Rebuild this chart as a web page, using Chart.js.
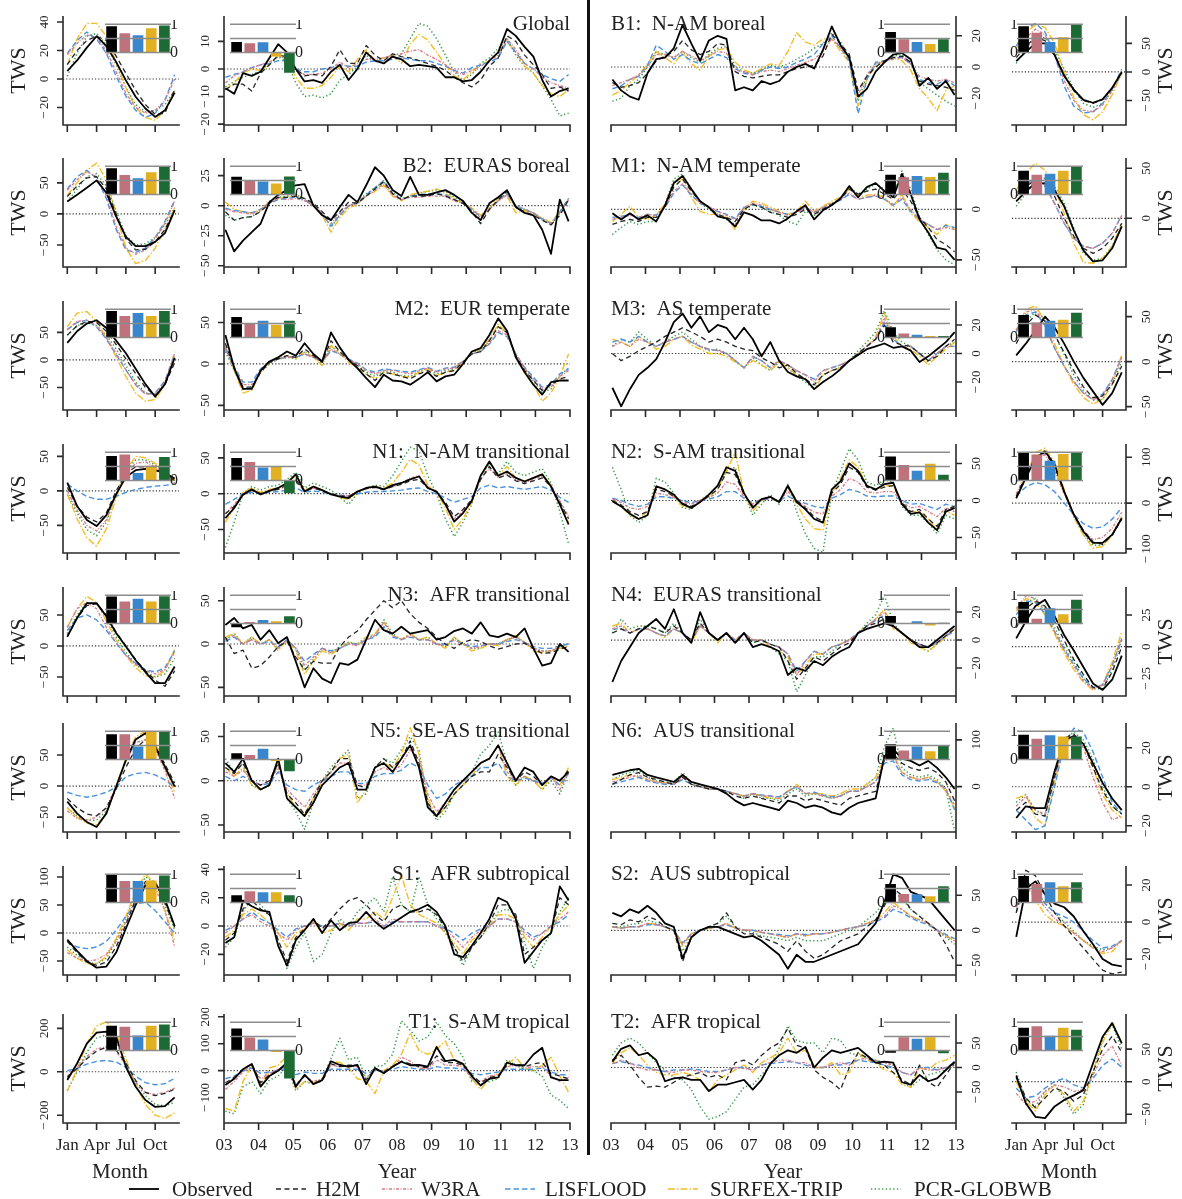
<!DOCTYPE html>
<html>
<head>
<meta charset="utf-8">
<title>Terrestrial water storage: observed and modelled</title>
<script src="https://cdn.jsdelivr.net/npm/chart.js@4.4.1/dist/chart.umd.min.js"></script>
<style>
  html, body { margin:0; padding:0; background:#fff; }
  body { position:relative; width:1182px; height:1199px; overflow:hidden;
         font-family:"Liberation Serif","DejaVu Serif",serif; color:#222; }
  canvas { position:absolute; }
  .divider { position:absolute; left:587px; top:0; width:3px; height:1155px; background:#111; }
  .axt { position:absolute; font-size:21px; line-height:1; white-space:nowrap; transform:translate(-50%,-50%); }
  .key { position:absolute; top:1178px; height:22px; display:flex; align-items:center; font-size:21px; white-space:nowrap; }
</style>
</head>
<body>
<div class="divider"></div>
<script>
// ---- axes / categories -------------------------------------------------
const MONTHS = [1,2,3,4,5,6,7,8,9,10,11,12];
const YEARS = Array.from({length: 40}, (_, i) => 2003.04 + i * 9.92 / 39);   // quarterly time stamps
const SERIES = ['Observed','H2M','W3RA','LISFLOOD','SURFEX-TRIP','PCR-GLOBWB'];
const MODELS = SERIES.slice(1);
const YEAR_TICKS = [2003,2004,2005,2006,2007,2008,2009,2010,2011,2012,2013];
const YEAR_LABELS = ['03','04','05','06','07','08','09','10','11','12','13'];
const MONTH_TICKS = [1,4,7,10];
const MONTH_LABELS = ['Jan','Apr','Jul','Oct'];

// ---- mean seasonal cycles (rows: Observed, H2M, W3RA, LISFLOOD, SURFEX-TRIP, PCR-GLOBWB)
const seasGlobal = [
  [5.6,13,22,30,23,12,-1,-12.5,-20.7,-26.6,-22,-9.6],
  [10,20,27,30,27,16,4,-8,-18,-25,-24,-7],
  [17,25,31,29,20,5,-10,-20,-24,-22,-15,0],
  [18,27,33,28,18,2,-12,-22,-27,-24,-15,3],
  [10,28,39,39,30,12,-6,-20,-27,-29,-22,-8],
  [2,18,30,32,24,10,-6,-18,-23,-22,-18,-8]];
const seasB1 = [
  [19,35,50,50,30,-7,-31,-49,-54,-48,-28,0],
  [25,45,60,55,30,-5,-33,-50,-55,-48,-28,-2],
  [35,60,75,65,30,-15,-50,-67,-70,-58,-33,0],
  [45,75,85,70,30,-25,-60,-72,-70,-55,-30,5],
  [40,70,82,78,50,0,-45,-75,-84,-70,-40,-2],
  [15,40,62,60,38,5,-30,-55,-62,-55,-33,-3]];
const seasB2 = [
  [20,31,42,54,34,-4,-37,-52,-52,-45,-31,6],
  [28,45,58,60,40,0,-40,-58,-57,-45,-25,5],
  [38,55,68,60,30,-20,-55,-65,-58,-40,-15,20],
  [40,60,70,58,25,-25,-58,-62,-55,-38,-12,22],
  [30,50,70,82,55,0,-55,-80,-75,-55,-25,10],
  [20,40,60,65,45,5,-35,-50,-48,-38,-18,10]];
const seasM1 = [
  [17,27,35,35,28,12,-12,-32,-43,-42,-30,-8],
  [22,32,38,35,22,0,-18,-30,-35,-30,-20,-5],
  [25,36,40,33,15,-5,-20,-28,-30,-25,-15,3],
  [25,35,38,32,15,-5,-20,-28,-30,-25,-15,3],
  [28,45,55,48,30,5,-25,-44,-45,-40,-28,-5],
  [12,25,38,40,32,15,-10,-35,-42,-40,-28,-8]];
const seasM2 = [
  [31,52,66,72,58,35,12,-16,-44,-67,-44,4],
  [45,62,70,68,52,28,2,-25,-50,-65,-45,-5],
  [55,70,72,62,40,12,-18,-45,-62,-62,-40,10],
  [55,68,72,60,38,10,-18,-45,-62,-60,-38,10],
  [60,85,88,70,40,5,-30,-60,-75,-72,-45,15],
  [45,62,68,62,45,20,-10,-40,-60,-62,-42,5]];
const seasM3 = [
  [7,20,35,50,38,20,0,-18,-33,-48,-35,-12],
  [20,40,52,45,30,10,-10,-28,-40,-38,-25,-5],
  [35,55,58,40,15,-5,-22,-35,-42,-38,-20,5],
  [33,52,55,40,15,-5,-22,-35,-42,-36,-20,5],
  [35,58,62,45,20,-5,-25,-40,-47,-42,-25,8],
  [25,45,55,48,30,8,-15,-32,-43,-42,-25,0]];
const seasN1 = [
  [12,-22,-42,-51,-35,-5,20,30,32,30,26,18],
  [5,-22,-38,-45,-32,0,25,35,35,30,25,15],
  [0,-28,-50,-58,-42,-5,25,40,42,35,25,10],
  [10,0,-8,-12,-12,-8,-2,2,5,7,8,10],
  [-5,-40,-68,-80,-55,-10,30,50,48,40,30,15],
  [-5,-32,-56,-65,-45,-5,28,45,45,38,28,12]];
const seasN2 = [
  [11,55,98,113,84,25,-25,-62,-87,-87,-69,-33],
  [15,60,100,110,80,25,-25,-60,-85,-90,-70,-35],
  [20,65,100,105,70,20,-25,-60,-80,-75,-55,-20],
  [15,35,45,40,25,0,-25,-45,-55,-52,-35,-10],
  [10,60,110,120,90,30,-30,-70,-98,-95,-70,-30],
  [10,55,100,115,85,25,-30,-68,-92,-92,-68,-30]];
const seasN3 = [
  [15,45,69,69,48,21,-1,-23,-42,-60,-60,-33],
  [15,45,65,68,50,22,0,-22,-40,-55,-65,-40],
  [30,60,70,60,30,5,-15,-30,-40,-45,-38,-10],
  [25,45,50,42,25,5,-15,-28,-38,-42,-35,-8],
  [30,60,80,70,40,10,-15,-35,-48,-50,-40,-5],
  [20,50,70,68,45,15,-10,-30,-42,-50,-45,-20]];
const seasN4 = [
  [6.6,20,32,37,24,9,-3,-16,-29,-34,-26,-7],
  [15,30,36,32,20,5,-10,-22,-32,-33,-20,0],
  [30,40,38,28,12,-3,-15,-27,-33,-30,-15,8],
  [25,36,35,26,12,-2,-14,-25,-32,-30,-15,6],
  [28,38,35,25,10,-5,-18,-28,-34,-30,-12,12],
  [20,35,38,30,15,0,-12,-25,-33,-33,-18,5]];
const seasN5 = [
  [-25,-44,-58,-66,-44,-1,42,75,85,64,31,-1],
  [-20,-35,-45,-48,-35,-5,30,60,75,65,35,5],
  [-40,-52,-55,-50,-35,0,40,70,75,60,25,-20],
  [-10,-15,-18,-15,-10,-2,15,20,22,18,10,-2],
  [-35,-50,-60,-62,-45,0,45,80,88,70,30,-10],
  [-35,-48,-55,-55,-40,0,40,75,85,70,35,0]];
const seasN6 = [
  [-16,-10,-11,-11,8,24,26,22,12,2,-6,-12],
  [-12,-8,-14,-15,5,25,27,22,10,-2,-10,-14],
  [-10,-5,-12,-14,5,24,26,20,5,-8,-17,-15],
  [-12,-17,-22,-20,0,22,30,28,18,5,-8,-14],
  [-6,-4,-16,-20,2,22,26,22,10,-4,-12,-16],
  [-8,-4,-12,-15,4,24,28,24,14,0,-10,-14]];
const seasS1 = [
  [-12,-32,-50,-62,-60,-35,8,50,85,90,60,12],
  [-15,-35,-52,-58,-52,-25,15,60,92,90,55,10],
  [-35,-45,-50,-48,-38,-15,20,60,88,80,40,-25],
  [-15,-25,-28,-25,-15,5,30,52,55,40,20,0],
  [-30,-45,-55,-55,-42,-10,30,75,105,88,40,-15],
  [-25,-40,-52,-55,-45,-15,25,70,100,90,50,5]];
const seasS2 = [
  [-8,18,22,15,10,8,3,-5,-12,-20,-23,-24],
  [5,28,25,15,5,-2,-8,-14,-20,-26,-28,-27],
  [8,20,14,8,2,-2,-6,-10,-14,-16,-14,-10],
  [5,22,18,10,5,3,0,-5,-10,-14,-13,-10],
  [8,20,12,4,0,-2,-6,-10,-14,-17,-16,-10],
  [10,22,18,10,5,0,-5,-10,-13,-15,-14,-10]];
const seasT1 = [
  [-38,38,130,180,185,162,23,-69,-130,-162,-158,-118],
  [-25,15,60,95,112,100,40,-40,-95,-110,-100,-80],
  [-20,20,70,105,115,95,30,-50,-95,-105,-95,-75],
  [5,15,35,48,52,45,20,-20,-50,-60,-55,-30],
  [-90,10,130,210,230,180,60,-60,-150,-200,-215,-190],
  [-85,0,90,155,170,140,40,-50,-110,-150,-158,-140]];
const seasT2 = [
  [8,-33,-54,-56,-38,-28,-21,-13,28,69,90,59],
  [10,-25,-40,-25,-10,-15,-30,-20,15,50,70,45],
  [-18,-35,-30,-15,-5,-8,-15,-12,10,40,55,25],
  [-10,-25,-22,-10,0,5,-5,-10,5,25,35,22],
  [0,-30,-45,-20,-5,-20,-45,-30,15,60,92,60],
  [15,-28,-38,-15,-5,-25,-50,-35,15,65,88,50]];

// ---- anomaly time series, 2003-2012 (quarterly, same series order) -----
const tsGlobal = [
  [-7,-9,-1.5,-2.5,-1,4,9,6,0,-4.5,-4,-5,-1,1.5,-4,0,6,3,2,4.5,3.5,1,1.5,1,0.5,-3,-3,-4.5,-4,-1,3,6,14.5,12,8,4.5,-4,-10,-8,-7],
  [-7.5,-5.5,-5.5,-8,-1.5,1.5,5,4.5,0,-2.5,-2,-2.5,1,7,2,2,8.5,5,3,5.5,4.5,4,3,2,1,-0.5,-3,-5,-6.5,-4,1,4,12,10,5,1.5,-2,-7,-6.5,-8],
  [-5,-2.5,-1,0.5,1.5,2.5,4.5,4,-0.5,-2,-2,-1.5,0,2.5,0.5,2,3.5,3.5,4,5,5.5,6.5,7,5,3.5,1.5,-1,-2,-0.5,1,3,5,11,7,2,0,-3,-5,-6,-7],
  [-3,-2,-1,0.5,1.5,2,3,3,0,-1,-1,0,0.5,1.5,1,1,2.5,3,3,3.5,4,3.5,3,3,2,1,-0.5,-1.5,0.5,1.5,2.5,4,10,6,2,0,-2,-3.5,-4.5,-2],
  [-7.6,-5,-1.5,0,-0.5,1.5,5,3.5,-3,-7,-7,-6,-3,1,-1,3.5,7,3,4,5,2,9,12.5,10.5,6,1.5,-2.5,-4,-1,1.5,3,6,10,6,1,-1.5,-6,-9,-10,-7.5],
  [-6.5,-4.5,-3,-2,-0.5,2,4.5,2.5,-5,-10,-9.5,-10.5,-9,-4,-2,1,5,2.5,4,5,5.5,11,16.5,15.5,11,5,-1,-4,-2,2,4,7.5,11,5,1,-1.5,-6,-11,-17,-16]];
const tsB1 = [
  [-8,-15,-19,-21,-4,5,6,12,27,15,4,17,20,18,-15,-13,-15,-9,-11,-9,-3,0,2,-1,11,26,14,6,-19,-14,-3,3,8,9,5,-12,-7,-14,-9,-18],
  [-10,-13,-12,-10,-4,4,7,10,17,11,8,10,15,14,-3,-6,-7,-6,-5,-5,-3,-1,0,1,7,21,15,8,-15,-6,0,4,6,7,3,-9,-11,-12,-13,-15],
  [-12,-10,-8,-5,0,8,8,6,10,7,4,7,10,9,-2,-3,-5,-3,-2,-3,-1,1,3,5,10,18,12,6,-18,-5,2,3,5,6,2,-6,-8,-9,-8,-10],
  [-14,-12,-8,-6,1,14,10,5,8,4,2,5,8,6,-1,-4,-5,-2,0,-1,0,3,5,8,15,20,12,4,-30,-8,3,4,6,6,2,-8,-10,-11,-8,-12],
  [-18,-15,-10,-5,2,10,6,2,9,2,-2,7,11,12,3,-2,-4,-1,2,1,10,22,16,14,18,18,10,3,-25,-8,1,4,6,4,-2,-14,-20,-28,-15,-12],
  [-22,-20,-12,-8,0,10,8,6,10,6,3,8,12,13,0,-3,-4,-2,1,0,2,5,8,12,15,22,16,6,-22,-6,2,4,7,8,2,-10,-14,-18,-22,-25]];
const tsB2 = [
  [-20,-38,-29,-22,-15,3,9,13,17,18,0,-8,-12,-1,9,3,17,32,25,13,8,24,9,9,11,13,9,4,-6,-12,2,7,13,-1,-6,-8,-20,-40,5,-13],
  [-5,-12,-10,-9,-5,2,7,7,8,6,2,-5,-12,-5,3,2,8,14,20,10,5,8,8,8,10,8,5,2,-5,-15,-3,5,12,-1,-5,-8,-12,-16,-8,5],
  [-3,-5,-6,-7,-3,3,6,5,6,4,0,-6,-15,-6,0,2,8,13,18,9,5,7,7,8,8,8,4,2,-3,-10,-3,4,9,0,-3,-6,-12,-15,-6,5],
  [-2,-4,-5,-6,-3,2,5,6,7,5,0,-7,-17,-8,0,2,9,15,21,10,5,8,9,10,10,9,5,2,-3,-9,-3,4,10,0,-3,-6,-11,-15,-5,6],
  [3,-3,-5,-6,-4,3,6,7,8,5,0,-8,-22,-10,-2,1,8,12,17,8,4,9,11,12,14,10,6,2,-2,-8,-2,6,8,-6,-4,-7,-10,-14,-5,6],
  [-8,-12,-10,-9,-4,4,7,8,9,6,1,-6,-18,-8,0,3,10,15,20,11,6,8,10,12,13,12,7,3,-4,-12,-2,6,10,-2,-3,-6,-11,-16,-6,6]];
const tsM1 = [
  [-4,-10,-4,-10,-6,-12,4,26,33,20,8,2,-7,-9,-17,-3,-6,-11,-11,-14,-9,-2,4,-10,-1,4,11,23,12,22,26,18,12,35,15,-10,-23,-38,-40,-50],
  [-15,-12,-10,-12,-8,-8,2,22,30,18,8,2,-5,-8,-12,0,5,2,-3,-5,-8,-5,0,-5,0,5,10,20,15,18,20,15,10,20,8,-8,-18,-30,-35,-42],
  [-10,-8,-6,-8,-5,-6,3,18,25,15,6,3,-2,-6,-10,2,6,4,0,-3,-6,-3,2,-3,2,6,10,16,10,12,14,10,5,12,0,-10,-15,-20,-18,-20],
  [-8,-7,-5,-8,-5,-6,2,16,24,14,6,2,-2,-5,-9,2,5,3,0,-3,-5,-3,2,-3,1,5,9,15,10,12,13,10,4,10,-2,-10,-15,-20,-16,-18],
  [-12,-5,3,-8,-10,-5,5,26,30,12,-2,-5,-5,-8,-20,0,8,6,2,-2,-5,-2,8,-2,3,8,12,20,12,14,15,12,2,15,-4,-12,-18,-25,-15,-20],
  [-25,-18,-12,-15,-12,-12,5,30,35,20,6,0,-5,-10,-15,0,4,2,-2,-6,-12,-15,-2,-6,2,6,10,22,15,20,25,20,15,38,20,-8,-25,-40,-50,-55]];
const tsM2 = [
  [35,-5,-30,-30,-8,3,8,15,10,25,12,3,38,20,5,-5,-17,-28,-13,-20,-21,-25,-18,-10,-21,-15,-13,0,15,19,35,55,40,8,-10,-25,-37,-22,-20,-20],
  [25,-5,-28,-28,-10,2,6,10,8,18,10,2,28,15,5,-2,-12,-20,-10,-12,-15,-18,-12,-8,-15,-10,-8,2,12,15,28,45,38,10,-8,-20,-32,-25,-18,-15],
  [20,-5,-25,-25,-8,2,6,8,8,12,8,2,18,12,5,0,-8,-12,-8,-8,-10,-12,-8,-5,-10,-6,-5,3,12,15,25,40,35,12,-5,-18,-30,-28,-15,-8],
  [18,-3,-22,-22,-6,3,6,8,8,12,8,3,16,12,6,1,-7,-10,-6,-7,-9,-10,-7,-4,-9,-5,-4,3,12,15,24,38,33,12,-4,-16,-28,-25,-12,-6],
  [22,-8,-35,-32,-10,2,8,10,6,15,8,-2,22,12,2,-5,-12,-18,-10,-12,-15,-16,-10,-6,-14,-10,-8,2,14,18,30,48,38,8,-8,-25,-45,-35,-15,12],
  [15,-8,-30,-28,-10,0,6,8,6,14,9,1,22,14,6,-2,-10,-15,-8,-10,-14,-15,-10,-5,-12,-8,-6,3,13,17,28,45,38,10,-6,-20,-35,-30,-14,-5]];
const tsM3 = [
  [-24,-37,-25,-15,-10,-4,8,22,28,18,26,15,20,18,10,18,10,-2,8,-5,-13,-16,-18,-25,-20,-16,-11,-5,-1,3,5,7,4,5,2,-6,-2,3,8,15],
  [0,-5,-2,2,5,8,12,15,18,15,12,8,10,8,5,3,2,-3,-6,-10,-8,-14,-18,-22,-15,-12,-10,-5,0,5,10,20,8,6,5,0,-5,-2,5,10],
  [5,8,5,10,8,5,8,10,12,8,5,3,2,0,-5,-10,-2,-5,-10,-5,-8,-12,-15,-20,-12,-10,-8,-5,0,5,10,25,10,5,5,0,-5,0,5,5],
  [8,10,8,12,8,5,8,10,12,8,5,3,2,0,-5,-10,-2,-5,-10,-5,-8,-12,-15,-18,-12,-10,-8,-5,0,5,10,22,10,5,5,0,-5,0,5,5],
  [10,8,5,12,8,3,5,10,12,6,3,0,0,-2,-6,-10,-5,-8,-12,-6,-10,-15,-18,-25,-15,-12,-10,-5,0,5,12,28,12,5,3,-2,-8,-2,3,8],
  [5,10,8,15,10,5,8,12,15,10,5,2,3,0,-5,-10,-3,-8,-12,-6,-10,-16,-20,-25,-15,-12,-10,-5,2,8,15,30,15,8,5,0,-6,0,5,8]];
const tsN1 = [
  [-34,-20,-1,6,-1,4,8,15,27,3,10,5,-1,-4,-6,3,8,10,6,12,15,20,24,8,3,-15,-39,-27,-10,25,45,25,31,22,17,22,27,10,-15,-43],
  [-28,-18,-2,5,0,4,6,12,20,3,8,4,0,-3,-4,3,7,9,6,10,13,18,20,8,2,-12,-32,-22,-8,20,38,22,26,18,14,18,22,10,-12,-35],
  [-28,-15,0,5,0,4,6,10,18,4,8,4,0,-2,-3,3,7,9,6,10,14,22,25,10,2,-15,-35,-25,-10,20,35,22,28,20,15,20,25,12,-10,-32],
  [-15,-8,0,2,0,2,3,5,8,2,4,2,0,-2,-3,0,2,3,3,4,5,7,8,3,0,-6,-12,-8,-4,8,12,8,10,8,6,8,10,5,-5,-12],
  [-40,-20,2,8,2,6,8,15,25,5,10,5,0,-5,-8,2,8,10,8,15,30,48,40,12,2,-20,-50,-35,-12,25,45,25,38,22,18,22,28,12,-15,-40],
  [-75,-40,0,10,5,10,12,20,30,8,15,10,5,-5,-15,0,8,12,10,25,45,65,60,25,0,-35,-60,-40,-15,25,42,28,45,30,25,30,35,15,-25,-70]];
const tsN2 = [
  [-1,-8,-18,-25,-20,19,15,8,-5,-10,-2,8,20,45,40,10,-10,2,5,-2,20,-2,-12,-25,-30,15,26,50,40,20,15,22,24,-5,-18,-16,-30,-40,-15,-10],
  [0,-6,-15,-20,-15,15,12,6,-4,-8,-2,6,15,38,35,8,-8,2,4,-2,18,0,-10,-22,-28,10,22,45,38,18,14,18,20,-3,-15,-12,-25,-35,-12,-8],
  [2,-3,-10,-12,-8,10,8,4,-2,-5,0,4,10,25,22,5,-5,2,3,0,12,0,-8,-16,-18,6,15,30,25,12,10,12,12,-2,-10,-8,-15,-22,-10,-15],
  [3,0,-5,-8,-5,5,5,3,0,-3,0,2,5,12,12,3,-3,1,2,0,6,0,-4,-8,-10,3,8,15,12,6,5,6,6,0,-5,-4,-8,-12,-5,-8],
  [0,-8,-20,-25,-15,20,15,5,-8,-10,0,5,15,40,65,10,-15,0,5,-2,18,-5,-25,-38,-40,10,30,55,45,20,15,20,20,-5,-15,-15,-25,-40,-15,-20],
  [45,15,-20,-30,-20,30,25,10,-10,-12,0,8,20,40,45,10,-20,-5,8,-5,22,-15,-45,-65,-70,10,40,70,55,25,20,28,25,-8,-20,-20,-30,-45,-20,-25]];
const tsN3 = [
  [22,30,18,22,5,16,1,8,-20,-50,-28,-40,-45,-22,-24,-18,5,28,16,12,20,12,14,16,5,8,15,18,12,25,10,8,12,8,18,-5,-25,-22,0,-9],
  [8,-11,-7,-28,-25,-15,-3,3,-15,-30,-20,-22,-22,-3,8,15,28,39,50,42,50,35,25,18,8,0,-5,2,5,3,-2,-6,-3,0,1,-5,-11,-10,-6,-3],
  [5,10,0,5,0,5,-5,5,-5,-25,-15,-5,-10,-5,0,-2,5,10,25,10,5,10,5,5,0,-2,5,0,-5,-3,0,0,5,8,2,-5,-8,-8,-3,0],
  [3,8,0,5,0,3,-3,5,-5,-20,-12,-5,-8,-5,0,0,5,8,20,8,5,8,5,5,0,0,5,0,-3,-2,0,0,3,5,2,-3,-5,-5,-2,0],
  [8,12,0,8,0,5,-8,5,-8,-35,-20,-8,-12,-5,2,0,8,12,25,10,5,12,5,8,0,-5,8,0,-8,-5,0,-2,5,10,2,-8,-10,-8,-5,-2],
  [5,12,0,8,0,5,-5,5,-5,-30,-18,-5,-10,-3,2,0,8,10,28,12,5,12,5,8,0,-3,8,0,-5,-5,0,0,5,8,2,-5,-8,-8,-3,0]];
const tsN4 = [
  [-30,-15,-5,5,10,15,8,22,5,-2,20,5,0,5,-2,5,-5,-3,-5,-8,-25,-20,-22,-15,-18,-12,-8,-5,5,8,10,12,10,5,0,-5,-5,0,5,10],
  [5,8,5,8,10,8,5,10,5,0,12,5,0,5,-2,5,-2,0,-3,-5,-15,-28,-20,-12,-15,-10,-5,-2,5,10,12,15,10,5,0,-3,-5,-2,3,8],
  [8,10,5,8,8,5,3,8,5,0,10,5,0,5,0,5,0,0,-3,-5,-10,-25,-15,-8,-10,-5,-3,0,5,10,15,20,10,5,0,-3,-5,-2,3,8],
  [8,8,5,8,8,5,3,8,5,0,10,5,0,5,0,5,0,0,-3,-5,-10,-22,-15,-8,-10,-5,-3,0,5,10,14,18,10,5,0,-3,-5,-2,3,6],
  [10,12,5,8,8,5,2,8,5,-2,10,5,-2,5,0,5,0,0,-5,-8,-12,-25,-18,-10,-10,-5,-3,0,5,10,15,22,8,5,-2,-5,-8,-3,2,8],
  [5,15,8,10,10,8,5,12,5,-2,15,5,0,5,-2,5,-2,0,-5,-10,-15,-37,-25,-12,-12,-8,-3,0,5,12,18,32,12,5,0,-5,-8,-3,3,8]];
const tsN5 = [
  [20,10,25,0,-10,-5,25,-20,-30,-40,-25,-5,5,15,20,-10,-10,15,20,10,25,40,15,-30,-40,-25,-10,0,10,20,25,40,20,0,15,10,-5,5,0,10],
  [15,8,20,0,-5,0,20,-15,-25,-38,-20,0,10,25,25,-5,-8,15,25,15,25,45,20,-25,-40,-30,-15,-5,5,10,10,30,15,0,10,5,-5,5,0,12],
  [10,5,12,0,-5,0,15,-10,-20,-30,-15,0,10,20,20,-5,-5,10,15,10,18,35,25,-15,-35,-25,-10,0,10,20,25,40,10,0,5,0,-5,5,-10,10],
  [5,0,5,0,-5,-3,10,-5,-10,-12,-5,0,5,10,10,-3,-3,5,8,8,12,20,15,-5,-20,-15,-5,0,5,15,15,20,5,0,3,0,-3,3,-5,8],
  [15,5,15,-5,-10,-5,20,-15,-30,-38,-20,0,10,25,30,-25,-10,15,20,15,30,60,30,-20,-42,-30,-15,-5,5,20,25,40,5,-5,5,0,-10,5,-5,15],
  [25,10,20,-5,-10,-5,20,-20,-35,-55,-25,0,15,25,35,-20,-15,15,25,20,35,50,35,-25,-45,-35,-15,-5,10,30,40,55,20,-5,5,0,-10,0,-15,10]];
const tsN6 = [
  [25,30,35,38,25,20,15,10,25,10,5,0,-5,-15,-30,-40,-35,-40,-45,-50,-30,-35,-45,-40,-45,-55,-60,-45,-35,-30,-25,65,80,60,55,45,55,40,20,-5],
  [5,15,25,30,20,15,10,5,20,5,0,-5,-5,-10,-20,-25,-20,-25,-30,-35,-20,-20,-30,-25,-30,-35,-40,-25,-20,-15,-10,60,70,50,40,35,40,30,10,-30],
  [10,15,20,25,15,10,8,5,20,5,0,-5,-5,-10,-15,-20,-15,-20,-20,-25,-10,0,-15,-15,-20,-25,-20,-10,-10,0,10,55,65,30,20,15,20,10,-5,-40],
  [5,10,15,20,12,8,5,5,15,5,0,-5,-5,-10,-15,-20,-15,-18,-20,-22,-10,0,-15,-12,-18,-22,-20,-10,-10,0,10,50,55,25,15,12,15,8,-5,-50],
  [15,20,25,20,15,10,8,5,25,5,0,-5,-5,-10,-15,-20,-15,-20,-25,-25,-10,5,-15,-15,-15,-20,-15,-5,-5,5,20,60,70,30,20,15,20,10,-10,-45],
  [15,25,30,35,20,12,10,8,30,8,2,-5,-5,-12,-15,-25,-15,-25,-25,-30,-15,-5,-20,-15,-20,-25,-20,-10,-10,5,20,85,125,40,25,20,25,15,-5,-95]];
const tsS1 = [
  [-12,-8,18,14,11,10,-14,-28,-10,-3,5,-5,4,-3,2,3,10,3,-2,2,6,10,12,15,10,0,-20,-22,-14,-5,5,20,17,5,-26,-18,-10,-5,28,18],
  [-10,-5,12,18,12,8,-10,-25,-8,-2,5,-2,5,12,18,20,15,8,3,12,15,10,10,12,8,-2,-15,-25,-15,-8,2,15,15,8,-20,-15,-10,-5,20,15],
  [-5,0,5,8,3,0,-5,-10,-3,0,2,0,0,2,0,2,2,5,0,5,3,3,3,3,0,-3,-8,-15,-8,-3,0,5,5,3,-5,-10,-5,0,5,10],
  [-3,0,5,10,5,2,-3,-8,-2,0,2,0,0,2,0,2,2,3,0,3,3,3,3,3,0,-2,-5,-10,-5,-2,0,5,5,3,-3,-8,-5,0,3,8],
  [-8,-3,8,12,8,2,-5,-15,-5,-2,3,-5,-3,2,-3,5,5,10,5,20,36,15,8,5,2,-5,-12,-20,-10,-5,0,8,8,5,-8,-15,-8,0,8,15],
  [-15,-8,10,20,15,8,-10,-30,-15,-5,-25,-20,-5,5,0,10,15,20,10,35,15,10,35,15,5,-5,-15,-28,-15,-8,0,10,12,8,-12,-30,-15,-5,10,20]];
const tsS2 = [
  [25,20,30,25,35,25,10,5,-40,-10,0,5,5,0,-5,-10,-8,-15,-25,-35,-55,-35,-45,-45,-40,-35,-30,-25,-20,-5,10,40,80,75,55,50,45,30,15,0],
  [10,8,15,12,20,15,5,0,-45,-10,0,5,10,25,5,-5,-5,-10,-15,-20,-30,-15,-30,-40,-35,-25,-15,-10,-5,5,15,35,60,50,30,20,10,0,-20,-45],
  [5,3,5,5,10,8,5,0,-20,-5,0,3,5,10,3,0,0,-3,-5,-8,-10,-5,-8,-5,-5,-3,0,3,5,10,15,20,35,30,20,15,10,0,-8,-15],
  [5,3,5,5,8,8,5,0,-18,-5,0,3,5,8,3,0,0,-3,-5,-6,-8,-5,-6,-5,-5,-3,0,3,5,8,12,18,30,25,18,12,8,0,-6,-12],
  [5,3,5,5,10,8,5,0,-22,-5,0,3,5,10,3,0,0,-3,-5,-8,-10,-5,-8,-5,-5,-3,0,3,5,10,15,25,40,30,20,15,10,0,-8,-15],
  [5,5,8,10,15,10,5,0,-30,-8,0,5,10,20,5,0,-3,-8,-10,-12,-15,-10,-15,-15,-15,-10,-5,0,5,15,25,40,55,45,30,20,10,0,-10,-20]];
const tsT1 = [
  [-53,-30,5,25,-59,-20,0,30,-60,-15,-50,-35,35,21,15,21,-50,10,-10,15,33,20,21,15,88,35,40,25,-20,-55,-30,-25,30,20,20,60,85,-25,-35,-35],
  [-45,-25,5,25,-45,-15,0,25,-55,-20,-45,-40,25,15,20,20,-35,5,-5,15,35,25,15,10,55,30,30,20,-15,-45,-25,-20,20,25,15,25,30,-10,-20,-30],
  [-70,-40,-5,20,-30,-10,5,20,-50,-20,-40,-30,20,15,15,15,-30,5,-5,10,50,35,10,5,40,20,20,15,-30,-40,-20,-15,15,20,10,15,15,-20,-40,-25],
  [-30,-20,0,10,-10,-5,0,10,-15,-5,-10,-10,5,5,5,5,-10,0,0,5,15,10,5,5,15,10,10,5,-10,-15,-10,-5,5,5,5,5,10,-5,-15,-15],
  [-140,-150,-40,20,-55,10,20,55,-70,-40,-45,-30,35,30,10,-30,-40,-85,0,20,60,140,75,60,80,110,40,20,-30,-70,-30,-10,20,50,10,0,20,50,-20,-80],
  [-150,-160,-60,-40,-85,-35,-20,15,-75,-40,-50,-30,45,120,40,50,-30,15,20,60,185,150,110,125,180,130,100,50,-40,-50,-40,-30,40,20,5,0,-20,-90,-110,-140]];
const tsT2 = [
  [12,38,45,25,30,15,-28,-22,-20,-25,-25,-48,-35,-35,-30,-25,-45,-25,8,25,35,30,42,0,20,35,30,35,40,25,10,12,10,-30,-35,-15,-28,-22,-5,12],
  [15,25,5,-20,-40,-38,-40,-30,-20,-15,-10,-20,-15,-25,10,15,5,25,40,50,80,45,40,-5,-20,-30,-45,0,30,20,10,5,-10,-25,-35,5,-30,-40,-15,10],
  [8,15,10,0,-5,-5,-8,-10,-5,-5,-8,-10,-10,-5,0,-2,-5,5,10,15,15,10,10,0,0,5,10,5,15,20,15,10,5,-10,-15,0,-5,-5,0,5],
  [8,12,8,5,0,-5,-8,-5,-5,-3,-5,-8,-8,-5,0,0,-5,5,8,10,12,10,5,0,0,5,5,10,15,12,10,5,0,-10,-15,0,0,-5,0,10],
  [10,30,40,25,5,-10,-15,-15,-10,-15,-25,-50,-25,-15,-5,5,-10,10,20,30,60,30,35,0,0,10,-15,-10,30,15,10,-5,-10,-35,-40,0,-5,10,15,25],
  [25,50,60,50,30,10,-5,-20,-25,-45,-80,-105,-100,-90,-65,-40,-35,-15,5,40,85,55,50,50,30,60,55,30,25,20,15,10,5,-30,-40,-25,-15,-10,-5,5]];

// ---- model skill scores (H2M, W3RA, LISFLOOD, SURFEX-TRIP, PCR-GLOBWB)
const skillSeasGlobal = [0.93,0.68,0.61,0.86,0.96], skillTsGlobal = [0.37,0.33,0.36,-0.14,-0.72];
const skillSeasB1 = [0.93,0.70,0.37,0.54,0.98],     skillTsB1 = [0.73,0.47,0.37,0.30,0.47];
const skillSeasB2 = [0.93,0.69,0.58,0.79,0.98],     skillTsB2 = [0.63,0.49,0.46,0.39,0.64];
const skillSeasM1 = [0.84,0.70,0.74,0.84,1.00],     skillTsM1 = [0.70,0.61,0.66,0.62,0.77];
const skillSeasM2 = [0.94,0.76,0.87,0.76,0.94],     skillTsM2 = [0.73,0.50,0.59,0.45,0.59];
const skillSeasM3 = [0.80,0.53,0.59,0.63,0.88],     skillTsM3 = [0.36,0.14,0.10,0.05,0.05];
const skillSeasN1 = [0.87,0.92,0.27,0.52,0.83],     skillTsN1 = [0.80,0.66,0.46,0.49,-0.45];
const skillSeasN2 = [1.00,0.92,0.70,0.94,0.98],     skillTsN2 = [0.85,0.55,0.35,0.59,0.20];
const skillSeasN3 = [0.96,0.78,0.88,0.78,0.97],     skillTsN3 = [-0.13,0.05,0.12,0.08,0.26];
const skillSeasN4 = [0.76,0.17,0.54,0.33,0.84],     skillTsN4 = [0.27,0.01,0.08,-0.07,0.03];
const skillSeasN5 = [0.90,0.90,0.46,1.00,1.00],     skillTsN5 = [0.22,0.16,0.38,-0.05,-0.42];
const skillSeasN6 = [0.88,0.74,0.86,0.82,0.82],     skillTsN6 = [0.54,0.32,0.46,0.29,0.50];
const skillSeasS1 = [1.00,0.76,0.76,0.78,0.96],     skillTsS1 = [0.26,0.40,0.36,0.36,0.26];
const skillSeasS2 = [0.94,0.66,0.72,0.58,0.72],     skillTsS2 = [0.66,0.30,0.29,0.22,0.58];
const skillSeasT1 = [0.88,0.84,0.53,0.88,0.92],     skillTsT1 = [0.78,0.46,0.39,-0.05,-0.99];
const skillSeasT2 = [0.81,0.86,0.52,0.81,0.74],     skillTsT2 = [-0.08,0.47,0.42,0.47,-0.10];

// ---- styling -----------------------------------------------------------
const SERIF = '"Liberation Serif", "DejaVu Serif", serif';
const LINE_STYLE = [
  {color:'#000000', width:1.8, dash:[]},
  {color:'#262626', width:1.3, dash:[5,3.5]},
  {color:'#d47f8c', width:1.4, dash:[3,1.5,1,1.5]},
  {color:'#4a92dd', width:1.4, dash:[5.5,3]},
  {color:'#f2bd26', width:1.4, dash:[7,2,1.5,2]},
  {color:'#3a9a4c', width:1.5, dash:[1.3,2.4]}
];
const BAR_COLORS = ['#000000','#bf727c','#3986cd','#e2b023','#1d6a35'];

// ---- page layout -------------------------------------------------------
const ROW_TOP = [16,158,301,444,587,723,866,1014];
const PANEL_H = 109;
const COLS = {
  seasL: {x:63,   w:116, axis:'left',  inset:105},
  tsL:   {x:224,  w:346, axis:'left',  inset:230},
  tsR:   {x:611,  w:345, axis:'right', inset:884},
  seasR: {x:1012, w:114, axis:'right', inset:1017}
};

const REGIONS = [
  {title:'Global',                  side:'L', row:0, seas:seasGlobal, ts:tsGlobal, kSeas:skillSeasGlobal, kTs:skillTsGlobal, seasY:[-32.3,44.2,[-20,0,20,40]], tsY:[-20.3,19.2,[-20,-10,0,10]]},
  {title:'B1:  N-AM boreal',        side:'R', row:0, seas:seasB1, ts:tsB1, kSeas:skillSeasB1, kTs:skillTsB1, seasY:[-93,98,[-50,0,50]],      tsY:[-37.2,32.7,[-20,0,20]]},
  {title:'B2:  EURAS boreal',       side:'L', row:1, seas:seasB2, ts:tsB2, kSeas:skillSeasB2, kTs:skillTsB2, seasY:[-85.5,90,[-50,0,50]],    tsY:[-51,39.7,[-50,-25,0,25]]},
  {title:'M1:  N-AM temperate',     side:'R', row:1, seas:seasM1, ts:tsM1, kSeas:skillSeasM1, kTs:skillTsM1, seasY:[-48.7,60.3,[0,50]],      tsY:[-57.1,50.8,[-50,0]]},
  {title:'M2:  EUR temperate',      side:'L', row:2, seas:seasM2, ts:tsM2, kSeas:skillSeasM2, kTs:skillTsM2, seasY:[-91,107,[-50,0,50]],     tsY:[-55.6,76,[-50,0,50]]},
  {title:'M3:  AS temperate',       side:'R', row:2, seas:seasM3, ts:tsM3, kSeas:skillSeasM3, kTs:skillTsM3, seasY:[-53.7,67.4,[-50,0,50]],  tsY:[-39.6,36.8,[-20,0,20]]},
  {title:'N1:  N-AM transitional',  side:'L', row:3, seas:seasN1, ts:tsN1, kSeas:skillSeasN1, kTs:skillTsN1, seasY:[-90,68,[-50,0,50]],      tsY:[-82.8,69.4,[-50,0,50]]},
  {title:'N2:  S-AM transitional',  side:'R', row:3, seas:seasN2, ts:tsN2, kSeas:skillSeasN2, kTs:skillTsN2, seasY:[-109,129,[-100,0,100]],  tsY:[-71,76.4,[-50,0,50]]},
  {title:'N3:  AFR transitional',   side:'L', row:4, seas:seasN3, ts:tsN3, kSeas:skillSeasN3, kTs:skillTsN3, seasY:[-80.6,95,[-50,0,50]],    tsY:[-60,65.8,[-50,0,50]]},
  {title:'N4:  EURAS transitional', side:'R', row:4, seas:seasN4, ts:tsN4, kSeas:skillSeasN4, kTs:skillTsN4, seasY:[-38.8,47,[-25,0,25]],    tsY:[-40,37.9,[-20,0,20]]},
  {title:'N5:  SE-AS transitional', side:'L', row:5, seas:seasN5, ts:tsN5, kSeas:skillSeasN5, kTs:skillTsN5, seasY:[-74,101.6,[-50,0,50]],   tsY:[-58,65.3,[-50,0,50]]},
  {title:'N6:  AUS transitional',   side:'R', row:5, seas:seasN6, ts:tsN6, kSeas:skillSeasN6, kTs:skillTsN6, seasY:[-23.2,32.7,[-20,0,20]],  tsY:[-97,136,[0,100]]},
  {title:'S1:  AFR subtropical',    side:'L', row:6, seas:seasS1, ts:tsS1, kSeas:skillSeasS1, kTs:skillTsS1, seasY:[-75,119.6,[-50,0,50,100]], tsY:[-34.6,42.4,[-20,0,20,40]]},
  {title:'S2:  AUS subtropical',    side:'R', row:6, seas:seasS2, ts:tsS2, kSeas:skillSeasS2, kTs:skillTsS2, seasY:[-28.6,30.3,[-20,0,20]],  tsY:[-63.9,91.9,[-50,0,50]]},
  {title:'T1:  S-AM tropical',      side:'L', row:7, seas:seasT1, ts:tsT1, kSeas:skillSeasT1, kTs:skillTsT1, seasY:[-236,266,[-200,0,200]],  tsY:[-194,210,[-100,0,100,200]]},
  {title:'T2:  AFR tropical',       side:'R', row:7, seas:seasT2, ts:tsT2, kSeas:skillSeasT2, kTs:skillTsT2, seasY:[-63.5,104,[-50,0,50]],   tsY:[-113,109,[-50,0,50]]}
];

const fmtTick = v => v < 0 ? '\u2212\u2009' + Math.abs(v) : String(v);

// R-style axes: L-shaped frame, outward ticks, rotated y labels, dotted zero line
function axesPlugin(cfg) {
  return {
    id: 'rAxes',
    beforeDatasetsDraw(chart) {
      const {ctx, chartArea: a} = chart;
      const y0 = chart.scales.y.getPixelForValue(0);
      ctx.save();
      ctx.strokeStyle = '#333333'; ctx.lineWidth = 1.2; ctx.setLineDash([1.2, 2.0]);
      ctx.beginPath(); ctx.moveTo(a.left, y0); ctx.lineTo(a.right, y0); ctx.stroke();
      ctx.restore();
    },
    afterDraw(chart) {
      const {ctx, chartArea: a, scales: {x, y}} = chart;
      const right = cfg.side === 'right';
      const ax = right ? a.right : a.left;
      ctx.save();
      ctx.setLineDash([]);
      ctx.strokeStyle = '#2a2a2a'; ctx.lineWidth = 1.6; ctx.lineCap = 'butt';
      ctx.beginPath();
      ctx.moveTo(ax, a.top); ctx.lineTo(ax, a.bottom + 0.8);
      ctx.moveTo(a.left - 0.8, a.bottom); ctx.lineTo(a.right + 0.8, a.bottom);
      cfg.xTicks.forEach(t => { const px = x.getPixelForValue(t); ctx.moveTo(px, a.bottom); ctx.lineTo(px, a.bottom + 7); });
      cfg.yTicks.forEach(t => { const py = y.getPixelForValue(t); ctx.moveTo(ax, py); ctx.lineTo(ax + (right ? 6 : -6), py); });
      ctx.stroke();

      ctx.fillStyle = '#222';
      ctx.font = '13px ' + SERIF;
      ctx.textAlign = 'center'; ctx.textBaseline = 'alphabetic';
      cfg.yTicks.forEach(t => {
        ctx.save();
        ctx.translate(right ? ax + 24 : ax - 15, y.getPixelForValue(t));
        ctx.rotate(-Math.PI / 2);
        ctx.fillText(fmtTick(t), 0, 0);
        ctx.restore();
      });

      if (cfg.xLabels) {
        ctx.font = '17px ' + SERIF;
        ctx.textBaseline = 'middle';
        cfg.xTicks.forEach((t, i) => ctx.fillText(cfg.xLabels[i], x.getPixelForValue(t), a.bottom + 23));
      }
      if (cfg.yTitle) {
        ctx.save();
        ctx.font = '22px ' + SERIF;
        ctx.textBaseline = 'middle';
        ctx.translate(right ? ax + 40 : ax - 44, (a.top + a.bottom) / 2);
        ctx.rotate(-Math.PI / 2);
        ctx.fillText(cfg.yTitle, 0, 0);
        ctx.restore();
      }
      if (cfg.title) {
        ctx.font = '21px ' + SERIF;
        ctx.textBaseline = 'alphabetic';
        ctx.textAlign = right ? 'left' : 'right';
        ctx.fillText(cfg.title, right ? a.left : a.right, a.top + 14);
      }
      ctx.restore();
    }
  };
}

function linePanel(col, row, xs, rows, xMin, xMax, yr, extra) {
  const M = {left: 70, right: 70, top: 6, bottom: 48};
  const c = document.createElement('canvas');
  c.width = col.w + M.left + M.right;
  c.height = PANEL_H + M.top + M.bottom;
  c.style.left = (col.x - M.left) + 'px';
  c.style.top = (ROW_TOP[row] - M.top) + 'px';
  document.body.appendChild(c);
  const cfg = Object.assign({side: col.axis, yTicks: yr[2]}, extra);
  new Chart(c, {
    type: 'line',
    data: {
      datasets: rows.map((vals, k) => ({
        label: SERIES[k],
        data: xs.map((xv, i) => ({x: xv, y: vals[i]})),
        borderColor: LINE_STYLE[k].color,
        borderWidth: LINE_STYLE[k].width,
        borderDash: LINE_STYLE[k].dash,
        pointRadius: 0, tension: 0, fill: false,
        borderJoinStyle: 'round'
      }))
    },
    options: {
      responsive: false, animation: false, devicePixelRatio: 1, events: [],
      layout: {padding: M},
      scales: {
        x: {type: 'linear', min: xMin, max: xMax, bounds: 'data', display: false},
        y: {type: 'linear', min: yr[0], max: yr[1], bounds: 'data', display: false}
      },
      plugins: {legend: {display: false}, tooltip: {enabled: false}}
    },
    plugins: [axesPlugin(cfg)]
  });
}

// reference lines at 1, 0.5 and 0 drawn over the skill bars
function guidePlugin(labelsRight) {
  return {
    id: 'skillGuides',
    afterDatasetsDraw(chart) {
      const {ctx, chartArea: a, scales: {y}} = chart;
      ctx.save();
      ctx.strokeStyle = '#8c8c8c'; ctx.lineWidth = 1.5;
      [1, 0.5, 0].forEach(v => {
        const py = y.getPixelForValue(v);
        ctx.beginPath(); ctx.moveTo(a.left, py); ctx.lineTo(a.right, py); ctx.stroke();
      });
      ctx.fillStyle = '#222';
      ctx.font = '16px ' + SERIF;
      ctx.textBaseline = 'middle';
      ctx.textAlign = labelsRight ? 'left' : 'right';
      const lx = labelsRight ? a.right - 1 : a.left + 1;
      ctx.fillText('1', lx, y.getPixelForValue(1));
      ctx.fillText('0', lx, y.getPixelForValue(0));
      ctx.restore();
    }
  };
}

function skillInset(col, row, vals, labelsRight) {
  const P = {left: 16, right: 16, top: 1.5, bottom: 1.5};
  const c = document.createElement('canvas');
  c.width = 66 + P.left + P.right;
  c.height = 62 + P.top + P.bottom;
  c.style.left = (col.inset - P.left) + 'px';
  c.style.top = (ROW_TOP[row] + 4) + 'px';
  document.body.appendChild(c);
  new Chart(c, {
    type: 'bar',
    data: {labels: MODELS, datasets: [{data: vals, backgroundColor: BAR_COLORS, borderWidth: 0,
                                       barPercentage: 0.81, categoryPercentage: 1}]},
    options: {
      responsive: false, animation: false, devicePixelRatio: 1, events: [],
      layout: {padding: P},
      scales: {x: {display: false}, y: {display: false, min: -1.1, max: 1.1, bounds: 'data'}},
      plugins: {legend: {display: false}, tooltip: {enabled: false}}
    },
    plugins: [guidePlugin(labelsRight)]
  });
}

REGIONS.forEach(r => {
  const left = r.side === 'L';
  const last = r.row === ROW_TOP.length - 1;
  linePanel(left ? COLS.seasL : COLS.seasR, r.row, MONTHS, r.seas, 0.56, 12.44, r.seasY,
            {xTicks: MONTH_TICKS, xLabels: last ? MONTH_LABELS : null, yTitle: 'TWS'});
  linePanel(left ? COLS.tsL : COLS.tsR, r.row, YEARS, r.ts, 2003, 2013, r.tsY,
            {xTicks: YEAR_TICKS, xLabels: last ? YEAR_LABELS : null, title: r.title});
});
REGIONS.forEach(r => {
  const left = r.side === 'L';
  skillInset(left ? COLS.seasL : COLS.seasR, r.row, r.kSeas, left);
  skillInset(left ? COLS.tsL : COLS.tsR, r.row, r.kTs, left);
});

// axis titles
[['Month',120],['Year',397],['Year',783],['Month',1069]].forEach(([txt, cx]) => {
  const d = document.createElement('div');
  d.className = 'axt'; d.textContent = txt;
  d.style.left = cx + 'px'; d.style.top = '1171px';
  document.body.appendChild(d);
});

// legend
const KEY_POS = [[129,172],[276,316],[382,421],[505,545],[668,710],[871,914]];
SERIES.forEach((name, k) => {
  const s = LINE_STYLE[k];
  const d = document.createElement('div');
  d.className = 'key';
  d.style.left = KEY_POS[k][0] + 'px';
  const gap = KEY_POS[k][1] - KEY_POS[k][0] - 30;
  d.innerHTML = '<svg width="30" height="10" style="margin-right:' + gap + 'px"><line x1="0" y1="5" x2="30" y2="5" stroke="' +
    s.color + '" stroke-width="' + s.width + '" stroke-dasharray="' + (s.dash.length ? s.dash.join(',') : 'none') +
    '"/></svg><span>' + name + '</span>';
  document.body.appendChild(d);
});
</script>
</body>
</html>
